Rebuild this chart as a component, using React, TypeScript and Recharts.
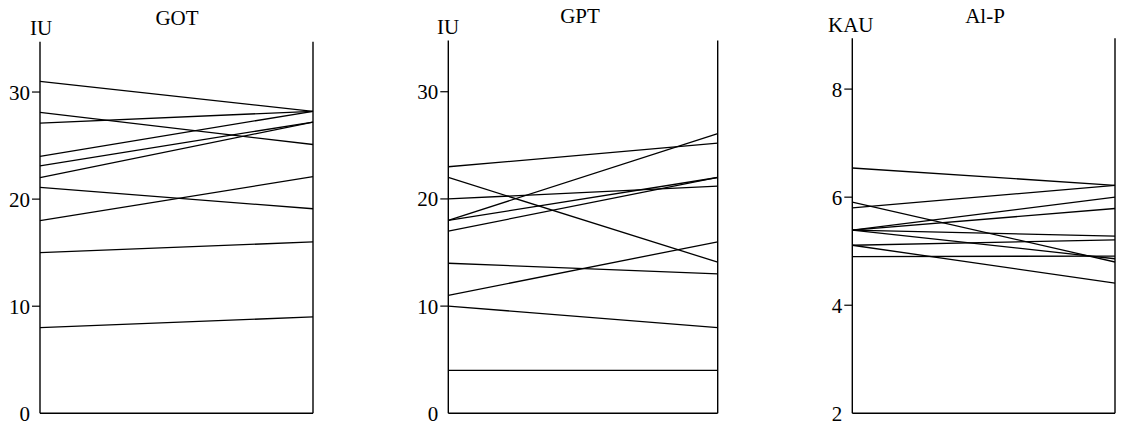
import { LineChart, Line, XAxis, YAxis, ReferenceLine } from "recharts";

// each index is one subject: value before (left) and after (right)
const gotBefore = [31, 28.1, 27.1, 24, 23.1, 22, 21.1, 18, 15, 8];
const gotAfter = [28.2, 25.1, 28.2, 28.2, 27.2, 27.2, 19.1, 22.1, 16, 9];
const gotTicks = [0, 10, 20, 30];

const gptBefore = [23, 22, 20, 18, 18, 17, 14, 11, 10, 4];
const gptAfter = [25.2, 14.1, 21.2, 26.1, 22, 22, 13, 16, 8, 4];
const gptTicks = [0, 10, 20, 30];

const alpBefore = [6.54, 5.8, 5.91, 5.39, 5.39, 5.39, 5.39, 5.11, 5.11, 4.9];
const alpAfter = [6.22, 6.22, 4.8, 6.0, 5.79, 5.28, 4.86, 5.21, 4.41, 4.91];
const alpTicks = [2, 4, 6, 8];

const font = "'Liberation Serif', 'DejaVu Serif', serif";

function buildRows(before: number[], after: number[]) {
  const first: Record<string, number> = { x: 0 };
  const second: Record<string, number> = { x: 1 };
  before.forEach((v, i) => {
    first["s" + i] = v;
    second["s" + i] = after[i];
  });
  return [first, second];
}

type PanelProps = {
  left: number;
  width: number;
  axisWidth: number;
  margin: { top: number; right: number; bottom: number; left: number };
  domain: [number, number];
  ticks: number[];
  before: number[];
  after: number[];
};

function Panel({ left, width, axisWidth, margin, domain, ticks, before, after }: PanelProps) {
  const rows = buildRows(before, after);
  const axisX = margin.left + axisWidth;
  // tick mark + label; the lowest value has no tick mark, like the original
  const renderTick = (props: any) => {
    const { y, payload } = props;
    return (
      <g>
        {payload.value !== domain[0] && (
          <line x1={axisX - 8} x2={axisX} y1={y} y2={y} stroke="#000" strokeWidth={1.2} />
        )}
        <text x={axisX - 10} y={y} dy="0.36em" textAnchor="end" fill="#000" fontSize={21} fontFamily={font}>
          {payload.value}
        </text>
      </g>
    );
  };
  return (
    <div style={{ position: "absolute", left, top: 0 }}>
      <LineChart width={width} height={426} data={rows} margin={margin}>
        <XAxis type="number" dataKey="x" domain={[0, 1]} hide />
        <YAxis
          type="number"
          domain={domain}
          ticks={ticks}
          width={axisWidth}
          axisLine={{ stroke: "#000", strokeWidth: 1.4 }}
          tickLine={false}
          tick={renderTick}
        />
        <ReferenceLine y={domain[0]} stroke="#000" strokeWidth={1.4} />
        <ReferenceLine x={1} stroke="#000" strokeWidth={1.4} />
        {before.map((_, i) => (
          <Line
            key={i}
            dataKey={"s" + i}
            type="linear"
            stroke="#000"
            strokeWidth={1.3}
            dot={false}
            activeDot={false}
            isAnimationActive={false}
          />
        ))}
      </LineChart>
    </div>
  );
}

export default function App() {
  return (
    <div style={{ position: "absolute", left: 0, top: 0, width: 1125, height: 426, background: "#fff" }}>
      <Panel
        left={0}
        width={330}
        axisWidth={40}
        margin={{ top: 41.7, right: 17, bottom: 12.7, left: 0 }}
        domain={[0, 34.7]}
        ticks={gotTicks}
        before={gotBefore}
        after={gotAfter}
      />
      <Panel
        left={400}
        width={330}
        axisWidth={48}
        margin={{ top: 40.5, right: 12.3, bottom: 12.7, left: 0.3 }}
        domain={[0, 34.78]}
        ticks={gptTicks}
        before={gptBefore}
        after={gptAfter}
      />
      <Panel
        left={800}
        width={325}
        axisWidth={52}
        margin={{ top: 38.3, right: 10, bottom: 12.7, left: 0.3 }}
        domain={[2, 8.94]}
        ticks={alpTicks}
        before={alpBefore}
        after={alpAfter}
      />
      <svg
        width={1125}
        height={426}
        style={{ position: "absolute", left: 0, top: 0, pointerEvents: "none" }}
        fontFamily={font}
        fontSize={21}
      >
        <text x={30} y={35}>IU</text>
        <text x={177} y={25} textAnchor="middle">GOT</text>
        <text x={437} y={34}>IU</text>
        <text x={580} y={23} textAnchor="middle">GPT</text>
        <text x={828} y={32}>KAU</text>
        <text x={985} y={23} textAnchor="middle">Al-P</text>
      </svg>
    </div>
  );
}
